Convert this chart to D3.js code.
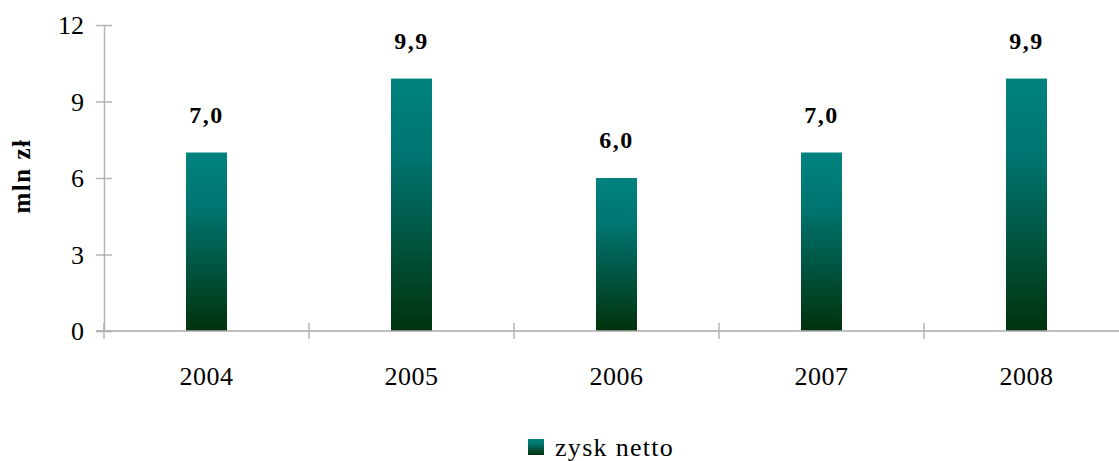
<!DOCTYPE html>
<html>
<head>
<meta charset="utf-8">
<script src="https://cdn.jsdelivr.net/npm/d3@7/dist/d3.min.js"></script>
<style>
  html, body { margin: 0; padding: 0; background: #fff; }
  svg { display: block; }
  text { font-family: "Liberation Serif", "DejaVu Serif", serif; fill: #000; }
</style>
</head>
<body>
<svg id="chart" width="1119" height="461"></svg>
<script>
// Net profit per year, in millions of złoty
const years = ["2004", "2005", "2006", "2007", "2008"];
const profit = [7.0, 9.9, 6.0, 7.0, 9.9];
const yTicks = [0, 3, 6, 9, 12];
const seriesName = "zysk netto";
const axisTitle = "mln zł";

const svg = d3.select("#chart");
const W = 1119, H = 461;
const plot = { left: 104, top: 25, bottom: 331, bandW: 205 };

const x = d3.scaleBand()
  .domain(years)
  .range([plot.left, plot.left + plot.bandW * years.length])
  .paddingInner(0).paddingOuter(0);

const y = d3.scaleLinear().domain([0, 12]).range([plot.bottom, plot.top]);

// Vertical gradient applied to each bar's own box
const defs = svg.append("defs");
const grad = defs.append("linearGradient")
  .attr("id", "barGrad").attr("x1", 0).attr("y1", 0).attr("x2", 0).attr("y2", 1);
grad.append("stop").attr("offset", "0%").attr("stop-color", "#00827e");
grad.append("stop").attr("offset", "30%").attr("stop-color", "#007571");
grad.append("stop").attr("offset", "100%").attr("stop-color", "#00320c");

const axisColor = "#b5b5b5";

// Y axis
const yAxis = svg.append("g")
  .attr("transform", `translate(${plot.left},0)`)
  .call(d3.axisLeft(y).tickValues(yTicks).tickSize(0).tickPadding(20));
yAxis.select(".domain").attr("stroke", axisColor).attr("stroke-width", 1.5);
yAxis.selectAll(".tick line").remove();
yAxis.selectAll(".tick").append("line")
  .attr("x1", -8).attr("x2", 8).attr("stroke", axisColor).attr("stroke-width", 1.5);
yAxis.selectAll(".tick text")
  .attr("font-family", "Liberation Serif, serif")
  .attr("font-size", 26).attr("fill", "#000").attr("dy", "0.34em");

// Bars
const barW = 41;
svg.append("g").selectAll("rect")
  .data(profit)
  .join("rect")
  .attr("x", (d, i) => x(years[i]) + x.bandwidth() / 2 - barW / 2)
  .attr("y", d => y(d))
  .attr("width", barW)
  .attr("height", d => y(0) - y(d))
  .attr("fill", "url(#barGrad)");

// X axis
const xg = svg.append("g");
xg.append("line")
  .attr("x1", plot.left - 8).attr("x2", W)
  .attr("y1", y(0)).attr("y2", y(0))
  .attr("stroke", "#a8a8a8").attr("stroke-width", 1.5);
const bounds = d3.range(years.length + 1).map(i => plot.left + i * x.bandwidth());
xg.selectAll("line.tick")
  .data(bounds)
  .join("line")
  .attr("class", "tick")
  .attr("x1", d => d).attr("x2", d => d)
  .attr("y1", y(0) - 8).attr("y2", y(0) + 8)
  .attr("stroke", axisColor).attr("stroke-width", 1.5);
xg.selectAll("text")
  .data(years)
  .join("text")
  .attr("x", d => x(d) + x.bandwidth() / 2)
  .attr("y", 385)
  .attr("text-anchor", "middle")
  .attr("font-size", 26)
  .attr("letter-spacing", 0.5)
  .text(d => d);

// Value labels
svg.append("g").selectAll("text")
  .data(profit)
  .join("text")
  .attr("x", (d, i) => x(years[i]) + x.bandwidth() / 2)
  .attr("y", d => y(d) - 30)
  .attr("text-anchor", "middle")
  .attr("font-size", 24)
  .attr("font-weight", "bold")
  .attr("letter-spacing", 1.5)
  .text(d => d.toFixed(1).replace(".", ","));

// Y axis title
svg.append("text")
  .attr("transform", "translate(30,176) rotate(-90)")
  .attr("text-anchor", "middle")
  .attr("font-size", 25)
  .attr("font-weight", "bold")
  .attr("letter-spacing", 1.5)
  .text(axisTitle);

// Legend
const lg = svg.append("g").attr("transform", "translate(528,439)");
lg.append("rect").attr("width", 16).attr("height", 16).attr("fill", "url(#barGrad)");
lg.append("text")
  .attr("x", 27).attr("y", 17)
  .attr("font-size", 26)
  .attr("letter-spacing", 1.3)
  .text(seriesName);
</script>
</body>
</html>
